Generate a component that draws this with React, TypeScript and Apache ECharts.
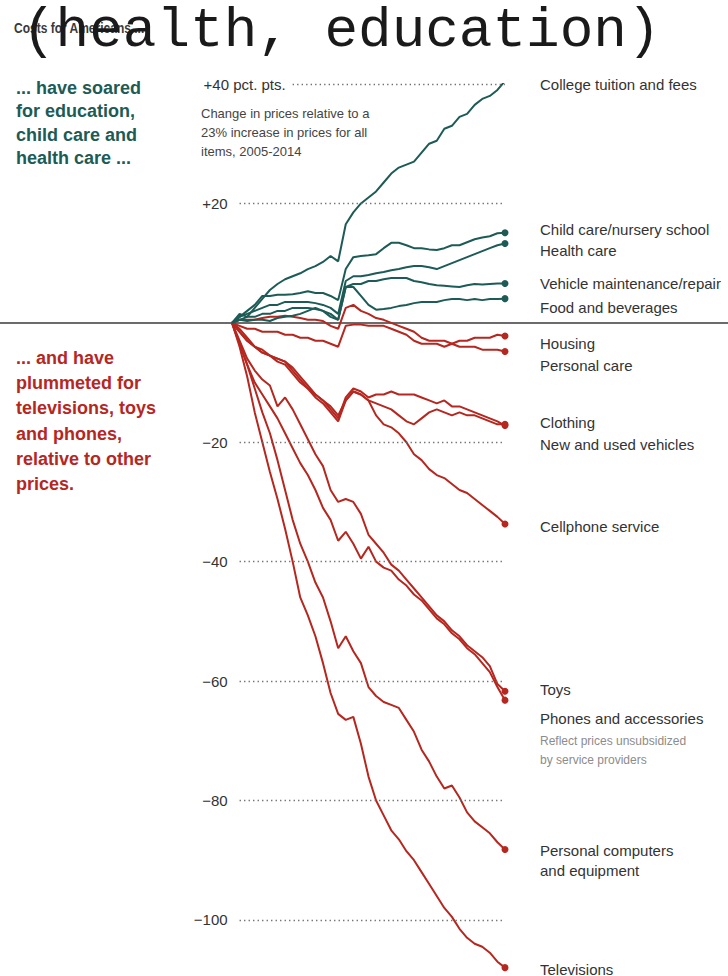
import React, { useEffect, useRef } from "react";
import * as echarts from "echarts";

// Quarterly observations, 2005 Q1 – 2014 Q1
const quarters = [
  "2005 Q1", "2005 Q2", "2005 Q3", "2005 Q4",
  "2006 Q1", "2006 Q2", "2006 Q3", "2006 Q4",
  "2007 Q1", "2007 Q2", "2007 Q3", "2007 Q4",
  "2008 Q1", "2008 Q2", "2008 Q3", "2008 Q4",
  "2009 Q1", "2009 Q2", "2009 Q3", "2009 Q4",
  "2010 Q1", "2010 Q2", "2010 Q3", "2010 Q4",
  "2011 Q1", "2011 Q2", "2011 Q3", "2011 Q4",
  "2012 Q1", "2012 Q2", "2012 Q3", "2012 Q4",
  "2013 Q1", "2013 Q2", "2013 Q3", "2013 Q4",
  "2014 Q1",
];

// Change in prices relative to all items (percentage points)
const tuition = [0, 1.5, 1, 2.5, 4, 5.5, 6.5, 7.3, 7.8, 8.3, 9, 9.5, 10.2, 11.2, 10.3, 16.5, 18.5, 20, 21, 22, 23.5, 25, 26, 26.5, 27, 28.5, 30, 30.5, 32.5, 33, 34.5, 35, 36.5, 37.5, 38, 39, 40.5];
const childCare = [0, 1, 2, 3, 4.5, 4.5, 4.7, 4.7, 4.8, 5, 5.3, 5, 5, 4.5, 3.8, 9, 11, 11.2, 11.3, 11.5, 12.5, 13.4, 13.4, 13, 12.5, 12.5, 12.3, 12.2, 12.5, 13, 13, 13.5, 14, 14.3, 14.5, 15, 15.1];
const healthCare = [0, 1, 1.5, 2, 2.5, 3, 3, 3.5, 3.5, 3.5, 3.5, 3.3, 3, 2.5, 1.5, 7, 7.8, 7.8, 8, 8.3, 8.5, 8.8, 9, 9.3, 9.5, 9.5, 9.3, 9, 9.5, 10, 10.5, 11, 11.5, 12, 12.5, 13, 13.3];
const vehicleRepair = [0, 0.5, 1, 1, 1.5, 1.5, 2, 2, 2.5, 2.5, 2.5, 2.3, 2, 1.5, 0.5, 6, 6.5, 6.5, 7, 7, 7.3, 7.5, 7.5, 7.5, 7, 6.8, 6.5, 6.3, 6.2, 6.1, 6, 6.3, 6.5, 6.4, 6.5, 6.6, 6.6];
const food = [0, 0.5, 0.3, 0.5, 0.5, 0.3, 0.8, 1, 1.2, 1.5, 2, 2.5, 2, 1, 0.5, 6, 6, 4.5, 3, 2.2, 2.3, 2.5, 2.8, 3, 3.3, 3.5, 3.5, 3.5, 3.8, 4, 4, 3.8, 4, 3.8, 4, 4, 4.05];
const housing = [0, 0.5, 0.5, 0.5, 0.8, 1, 1, 1.2, 1, 0.8, 0.5, 0.5, 0.3, -0.5, -1, 2.5, 3, 2, 1.5, 0.8, 0.5, 0, -0.5, -1, -1.5, -2.5, -3, -3, -3, -3.5, -3, -3, -2.5, -2.5, -2.5, -2, -2.2];
const personalCare = [0, -0.5, -1, -1, -1.5, -1.5, -1.5, -2, -2, -2.5, -2.5, -3, -3, -3.5, -4, -0.5, -0.3, -0.3, -0.5, -0.5, -0.5, -1, -1.5, -2, -3, -3.5, -3.5, -3.5, -4, -3.5, -4, -4, -4, -4.5, -4.5, -4.5, -4.8];
const clothing = [0, -1, -2.5, -4, -4.5, -5.5, -6, -6.5, -8, -9.5, -11, -12, -13, -14.5, -16, -12.5, -11, -11.5, -12.5, -12, -12, -11.5, -12, -12, -12, -12.5, -13, -13.5, -13, -14, -14, -14.5, -15, -15.5, -16, -16.5, -17.2];
const vehicles = [0, -1.5, -3, -4, -5, -5.5, -6.5, -7, -8.5, -10, -11, -12.5, -13.5, -15, -16.5, -13, -11.5, -12, -13, -13.5, -14, -14.5, -15.5, -16.5, -17, -16, -15, -14.5, -15, -15.5, -15, -15.5, -15.5, -16, -16.5, -17, -17];
const cellService = [0, -1.5, -3, -4, -5, -5.5, -6, -6.5, -7.5, -9, -10.5, -12, -13, -14, -15.5, -13, -11.5, -12, -13, -15.5, -17, -17.5, -18.5, -20, -22, -23, -24.5, -25.5, -26, -27, -28, -28.5, -29.5, -30.5, -31.5, -32.5, -33.7];
const toys = [0, -3, -6, -8, -9.5, -10.5, -14, -12.5, -14.5, -17, -19.5, -22, -24, -28, -30, -29.5, -30, -32, -35.5, -37, -38.5, -40.5, -41.5, -43, -44.5, -46, -47.5, -49, -50, -51.5, -52.5, -54, -55, -56, -57.5, -60.5, -61.7];
const phones = [0, -3.5, -7, -10, -12, -14, -16, -18.5, -21, -23.5, -25.5, -28, -31, -33, -36.5, -35, -37, -39.5, -37.5, -40, -41, -41.5, -43, -44, -45.5, -46.5, -48, -49.5, -50.5, -52, -53, -54.5, -55.5, -57, -58.5, -61, -63.2];
const computers = [0, -3.5, -7, -11, -15, -18.5, -23, -28, -33, -37, -40, -43.5, -46, -50, -54.5, -52.5, -55, -57, -61, -62.5, -63.5, -64, -64.5, -66.5, -68.5, -71.5, -73.5, -76, -78, -77.5, -79.5, -82, -83.5, -84.5, -85.5, -87, -88.2];
const televisions = [0, -4, -9, -15, -20, -25, -29.5, -34.5, -40, -46, -49, -52.5, -57, -62, -65.5, -66.5, -66, -70.5, -76, -80, -82.5, -85, -86.5, -88.5, -90, -92, -94, -96, -98, -99.5, -101.5, -103, -104, -104.5, -105.5, -107, -108];

const risers = [
  { name: "College tuition and fees", values: tuition },
  { name: "Child care/nursery school", values: childCare },
  { name: "Health care", values: healthCare },
  { name: "Vehicle maintenance/repair", values: vehicleRepair },
  { name: "Food and beverages", values: food },
];
const fallers = [
  { name: "Housing", values: housing },
  { name: "Personal care", values: personalCare },
  { name: "Clothing", values: clothing },
  { name: "New and used vehicles", values: vehicles },
  { name: "Cellphone service", values: cellService },
  { name: "Toys", values: toys },
  { name: "Phones and accessories", values: phones },
  { name: "Personal computers and equipment", values: computers },
  { name: "Televisions", values: televisions },
];

const tickValues = [40, 20, -20, -40, -60, -80, -100];
const tickLabels = ["+40 pct. pts.", "+20", "\u221220", "\u221240", "\u221260", "\u221280", "\u2212100"];

const GREEN = "#1d5b56";
const RED = "#b5271f";
const SANS = "'Liberation Sans', Arial, Helvetica, sans-serif";

export default function App() {
  const ref = useRef<HTMLDivElement>(null);

  useEffect(() => {
    if (!ref.current) return;
    const chart = echarts.init(ref.current, undefined, { renderer: "svg" });
    const last = quarters.length - 1;

    const mkSeries = (s: { name: string; values: number[] }, color: string) => ({
      type: "line",
      name: s.name,
      xAxisIndex: 0,
      yAxisIndex: 0,
      data: s.values,
      z: 3,
      symbol: "circle",
      showSymbol: true,
      showAllSymbol: true,
      symbolSize: (_v: any, p: any) => (p.dataIndex === last ? 7 : 0),
      lineStyle: { color, width: 2 },
      itemStyle: { color },
      emphasis: { disabled: true },
      silent: true,
    });

    const labelText = (x: number, y: number, text: string, extra: any = {}) => ({
      type: "text",
      x,
      y,
      silent: true,
      style: {
        text,
        fill: "#333",
        fontSize: 15,
        fontFamily: SANS,
        verticalAlign: "middle",
        ...extra,
      },
    });

    const Y_MIN = -109.4;
    const Y_MAX = 40;

    chart.setOption({
      animation: false,
      backgroundColor: "#ffffff",
      grid: [
        { left: 232, right: 223, top: 84, bottom: 0, containLabel: false },
        { left: 0, right: 0, top: 84, bottom: 0, containLabel: false },
      ],
      xAxis: [
        {
          type: "category",
          gridIndex: 0,
          data: quarters,
          boundaryGap: false,
          show: false,
        },
        {
          type: "value",
          gridIndex: 1,
          min: 0,
          max: 1,
          axisLine: { show: true, onZero: true, lineStyle: { color: "#3a3a3a", width: 1.6 } },
          axisTick: { show: false },
          axisLabel: { show: false },
          splitLine: { show: false },
        },
      ],
      yAxis: [
        { type: "value", gridIndex: 0, min: Y_MIN, max: Y_MAX, show: false },
        { type: "value", gridIndex: 1, min: Y_MIN, max: Y_MAX, show: false },
      ],
      series: [
        {
          type: "line",
          name: "grid",
          xAxisIndex: 0,
          yAxisIndex: 0,
          data: quarters.map(() => null),
          z: 1,
          silent: true,
          symbol: "none",
          lineStyle: { opacity: 0 },
          markLine: {
            silent: true,
            symbol: "none",
            emphasis: { disabled: true },
            lineStyle: { color: "#6a6a6a", width: 1.3, type: [1.3, 3.2] },
            label: {
              show: true,
              position: "start",
              color: "#333",
              fontSize: 15,
              fontFamily: SANS,
            },
            data: tickValues.map((v, i) => [
              {
                coord: [v === 40 ? 7.9 : 1, v],
                label: { formatter: tickLabels[i], distance: v === 40 ? 7 : 12 },
              },
              { coord: [last, v] },
            ]),
          },
        },
        {
          type: "line",
          name: "zero",
          xAxisIndex: 1,
          yAxisIndex: 1,
          data: [],
          silent: true,
        },
        ...fallers.map((s) => mkSeries(s, RED)),
        ...risers.map((s) => mkSeries(s, GREEN)),
      ],
      graphic: [
        {
          type: "text",
          x: 14,
          y: 28,
          scaleX: 0.8,
          silent: true,
          style: {
            text: "Costs for Americans ...",
            fill: "#3a3a3a",
            fontSize: 15,
            fontWeight: "bold",
            fontFamily: SANS,
            verticalAlign: "middle",
          },
        },
        {
          type: "text",
          x: 22,
          y: 3,
          silent: true,
          style: {
            text: "(health, education)",
            fill: "#1a1a1a",
            fontSize: 56,
            fontFamily: "'Liberation Mono', 'Courier New', monospace",
            verticalAlign: "top",
          },
        },
        {
          type: "text",
          x: 16,
          y: 76.3,
          silent: true,
          style: {
            text: "... have soared\nfor education,\nchild care and\nhealth care ...",
            fill: GREEN,
            fontSize: 18,
            fontWeight: "bold",
            fontFamily: SANS,
            lineHeight: 23.4,
            verticalAlign: "top",
          },
        },
        {
          type: "text",
          x: 16,
          y: 345.4,
          silent: true,
          style: {
            text: "... and have\nplummeted for\ntelevisions, toys\nand phones,\nrelative to other\nprices.",
            fill: RED,
            fontSize: 18,
            fontWeight: "bold",
            fontFamily: SANS,
            lineHeight: 25.2,
            verticalAlign: "top",
          },
        },
        {
          type: "text",
          x: 201,
          y: 103.5,
          silent: true,
          style: {
            text: "Change in prices relative to a\n23% increase in prices for all\nitems, 2005-2014",
            fill: "#444",
            fontSize: 13,
            fontFamily: SANS,
            lineHeight: 19,
            verticalAlign: "top",
          },
        },
        labelText(540, 84, "College tuition and fees"),
        labelText(540, 229, "Child care/nursery school"),
        labelText(540, 250, "Health care"),
        labelText(540, 283, "Vehicle maintenance/repair"),
        labelText(540, 307, "Food and beverages"),
        labelText(540, 343, "Housing"),
        labelText(540, 365, "Personal care"),
        labelText(540, 422, "Clothing"),
        labelText(540, 444, "New and used vehicles"),
        labelText(540, 526, "Cellphone service"),
        labelText(540, 689, "Toys"),
        labelText(540, 718, "Phones and accessories"),
        {
          type: "text",
          x: 540,
          y: 731.5,
          silent: true,
          style: {
            text: "Reflect prices unsubsidized\nby service providers",
            fill: "#8c8c8c",
            fontSize: 12,
            fontFamily: SANS,
            lineHeight: 19,
            verticalAlign: "top",
          },
        },
        {
          type: "text",
          x: 540,
          y: 840,
          silent: true,
          style: {
            text: "Personal computers\nand equipment",
            fill: "#333",
            fontSize: 15,
            fontFamily: SANS,
            lineHeight: 20,
            verticalAlign: "top",
          },
        },
        labelText(540, 969, "Televisions"),
      ],
    });

    return () => chart.dispose();
  }, []);

  return (
    <div
      ref={ref}
      style={{ position: "absolute", left: 0, top: 0, width: 728, height: 976, background: "#fff" }}
    />
  );
}
